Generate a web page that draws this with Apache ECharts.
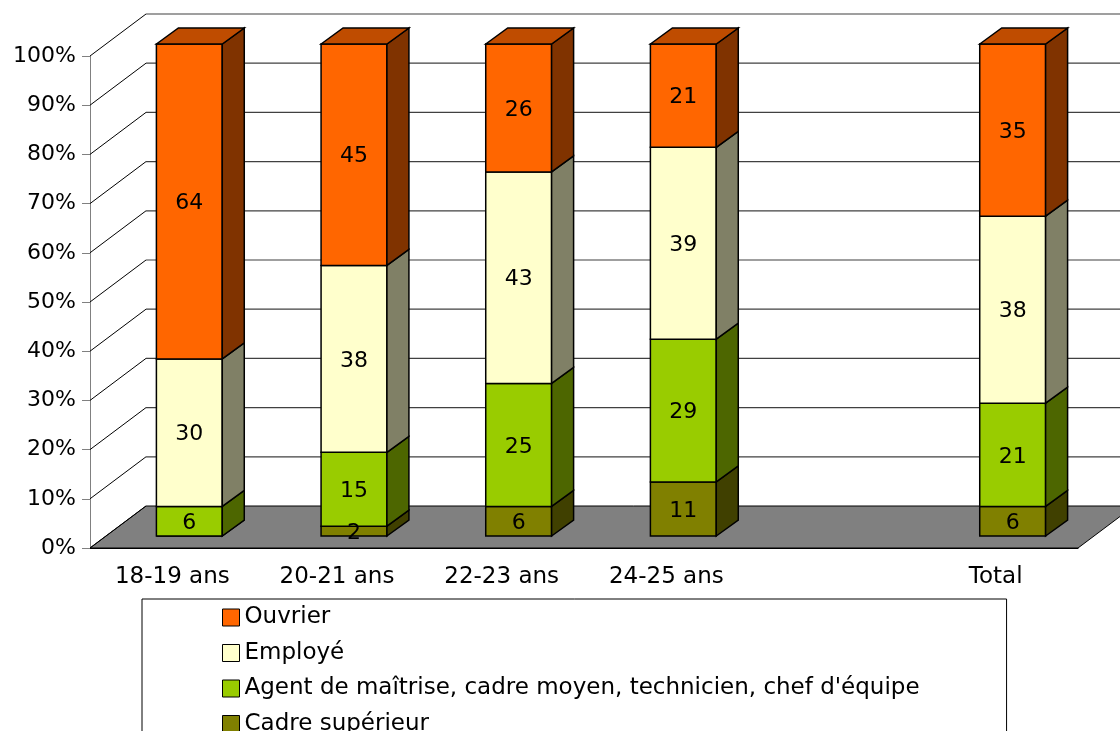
<!DOCTYPE html>
<html>
<head>
<meta charset="utf-8">
<script src="https://cdn.jsdelivr.net/npm/echarts@6/dist/echarts.min.js"></script>
<style>
html,body{margin:0;padding:0;background:#fff;}
#chart{width:1120px;height:731px;}
</style>
</head>
<body>
<div id="chart"></div>
<script>
// categories (the empty one is the gap before Total)
var categories = ['18-19 ans', '20-21 ans', '22-23 ans', '24-25 ans', '', 'Total'];
var ouvrier = [64, 45, 26, 21, null, 35];
var employe = [30, 38, 43, 39, null, 38];
var agent   = [6, 15, 25, 29, null, 21];
var cadre   = [0, 2, 6, 11, null, 6];
var yTicks  = [0, 10, 20, 30, 40, 50, 60, 70, 80, 90, 100];

var names = ['Cadre supérieur', "Agent de maîtrise, cadre moyen, technicien, chef d'équipe", 'Employé', 'Ouvrier'];
var values = [cadre, agent, employe, ouvrier];
var fronts = ['#808000', '#99CC00', '#FFFFCC', '#FF6600'];
var sides  = ['#404000', '#4D6600', '#808066', '#803300'];
var tops   = ['#606000', '#739900', '#BFBF99', '#BF4C00'];

// 3d offsets in px
var FRONT = [17, -12];
var DEPTH = [22, -16];
var WALL  = [56, -42];

var myChart = echarts.init(document.getElementById('chart'));

function stackData(k) {
  var out = [];
  for (var i = 0; i < categories.length; i++) {
    if (values[k][i] == null) continue;
    var base = 0;
    for (var j = 0; j < k; j++) base += values[j][i] || 0;
    var top = k == values.length - 1;
    out.push([i, base, base + values[k][i], values[k][i], top ? 1 : 0]);
  }
  return out;
}

function renderBar(k) {
  return function (params, api) {
    var i = api.value(0);
    var c0 = api.coord([i, api.value(1)]);
    var c1 = api.coord([i, api.value(2)]);
    var w = api.size([1, 0])[0] * 0.4;
    var x = c0[0] - w / 2 + FRONT[0];
    var yb = c0[1] + FRONT[1];
    var yt = c1[1] + FRONT[1];
    var line = { stroke: '#000', lineWidth: 1.5 };
    var children = [
      { type: 'rect', shape: { x: x, y: yt, width: w, height: yb - yt },
        style: Object.assign({ fill: fronts[k] }, line) },
      { type: 'polygon', shape: { points: [[x + w, yb], [x + w + DEPTH[0], yb + DEPTH[1]], [x + w + DEPTH[0], yt + DEPTH[1]], [x + w, yt]] },
        style: Object.assign({ fill: sides[k] }, line) }
    ];
    if (api.value(4) == 1) {
      children.push({ type: 'polygon', shape: { points: [[x, yt], [x + DEPTH[0], yt + DEPTH[1]], [x + w + DEPTH[0], yt + DEPTH[1]], [x + w, yt]] },
        style: Object.assign({ fill: tops[k] }, line) });
    }
    if (api.value(3) > 0) {
      children.push({ type: 'text', z2: 10, style: {
        x: x + w / 2, y: (yt + yb) / 2 + 2, text: String(api.value(3)),
        fill: '#000', font: '22px "DejaVu Sans"', align: 'center', verticalAlign: 'middle' } });
    }
    return { type: 'group', children: children };
  };
}

// walls and floor
function renderFrame(params, api) {
  var cs = params.coordSys;
  var v = api.value(1);
  var p = api.coord([0, v]);
  var y = p[1];
  var left = cs.x, right = cs.x + cs.width;
  var children = [];
  if (v == 0) {
    children.push({ type: 'polygon', shape: { points: [[left, y], [right, y], [right + WALL[0], y + WALL[1]], [left + WALL[0], y + WALL[1]]] },
      style: { fill: '#808080', stroke: '#000', lineWidth: 1 } });
  } else {
    children.push({ type: 'line', shape: { x1: left + WALL[0], y1: y + WALL[1], x2: right + WALL[0], y2: y + WALL[1] },
      style: { stroke: '#404040', lineWidth: 1.2 } });
  }
  children.push({ type: 'line', shape: { x1: left, y1: y, x2: left + WALL[0], y2: y + WALL[1] },
    style: { stroke: '#000', lineWidth: 1 } });
  return { type: 'group', children: children };
}

var series = [{
  name: 'frame',
  type: 'custom',
  renderItem: renderFrame,
  data: yTicks.map(function (v) { return [0, v]; }),
  encode: { x: 0, y: 1 },
  silent: true,
  z: 1
}];
for (var k = 0; k < values.length; k++) {
  series.push({
    name: names[k],
    type: 'custom',
    renderItem: renderBar(k),
    data: stackData(k),
    encode: { x: 0, y: [1, 2] },
    itemStyle: { color: fronts[k] },
    z: 2
  });
}

myChart.setOption({
  animation: false,
  textStyle: { fontFamily: 'DejaVu Sans' },
  grid: { left: 90, right: 42, top: 56, bottom: 183 },
  legend: {
    data: ['Ouvrier', 'Employé', "Agent de maîtrise, cadre moyen, technicien, chef d'équipe", 'Cadre supérieur'],
    orient: 'vertical',
    left: 142,
    top: 599,
    height: 300,
    padding: [7, 87, 40, 80],
    itemGap: 12.5,
    itemWidth: 17,
    itemHeight: 17,
    itemTextGap: 6,
    icon: 'rect',
    itemStyle: { borderColor: '#000', borderWidth: 1 },
    borderColor: '#000',
    borderWidth: 1,
    textStyle: { fontSize: 23, color: '#000', fontFamily: 'DejaVu Sans', lineHeight: 22 },
    selectedMode: false
  },
  xAxis: {
    type: 'category',
    data: categories,
    axisLine: { lineStyle: { color: '#000', width: 1 } },
    axisTick: { length: 9, lineStyle: { color: '#808080' } },
    axisLabel: { color: '#000', fontSize: 23, margin: 18, interval: 0 },
    splitLine: { show: false }
  },
  yAxis: {
    type: 'value',
    min: 0,
    max: 100,
    interval: 10,
    axisLine: { show: true, lineStyle: { color: '#808080' } },
    axisTick: { show: true, length: 8, lineStyle: { color: '#808080' } },
    axisLabel: { color: '#000', fontSize: 22, margin: 14, formatter: '{value}%' },
    splitLine: { show: false }
  },
  series: series
});
</script>
</body>
</html>
